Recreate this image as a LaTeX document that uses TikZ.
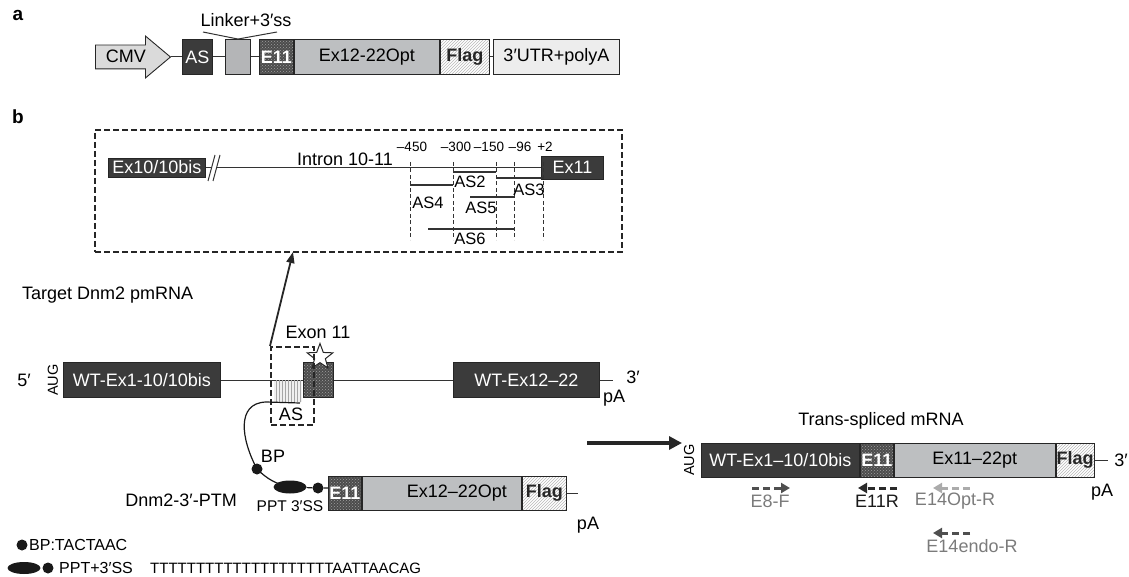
\documentclass[tikz,border=0pt]{standalone}
\usepackage{fontspec}
\setmainfont{Liberation Sans}
\usetikzlibrary{arrows.meta,positioning,shapes.geometric,shapes.arrows,patterns}
\definecolor{exdark}{HTML}{3B3B3B}
\definecolor{exdots}{HTML}{4C4C4C}
\definecolor{optgrey}{HTML}{BDBFC1}
\definecolor{linkgrey}{HTML}{B4B5B7}
\definecolor{cmvgrey}{HTML}{DADADA}
\definecolor{utrgrey}{HTML}{EDEDED}
\definecolor{prdark}{HTML}{2A2A2A}
\definecolor{prmid}{HTML}{4F4F4F}
\definecolor{prlight}{HTML}{ABABAB}
\definecolor{prtext}{HTML}{7B7B7B}
\newcommand{\fsz}[1]{\fontsize{#1}{#1}\selectfont}

\begin{document}
\begin{tikzpicture}[x=1pt,y=-1pt,
  every node/.style={inner sep=0pt,font=\fsz{18}},
  exbox/.style={draw=black!85,line width=0.9pt,minimum height=35pt,anchor=west},
  dark/.style={exbox,fill=exdark,text=white},
  dotbox/.style={exbox,preaction={fill=exdots},pattern=crosshatch dots,
                 pattern color=gray!75,text=white,font=\fsz{18}\bfseries},
  optbox/.style={exbox,fill=optgrey},
  flagbox/.style={exbox,preaction={fill=white},pattern=north east lines,
                  pattern color=gray!55,text=black!85,font=\fsz{18}\bfseries},
  hatchbox/.style={preaction={fill=gray!12},pattern=vertical lines,pattern color=gray!70},
  backbone/.style={line width=1pt,black!80},
  zoombox/.style={draw=black!85,line width=2pt,dash pattern=on 6pt off 3pt},
  vdash/.style={line width=1pt,black!80,dash pattern=on 4pt off 2.5pt},
  asseg/.style={line width=2.6pt,black!80},
  dotnode/.style={circle,fill=black!90,minimum size=11pt},
  ptm/.style={line width=1.2pt,black!90},
  zoomarrow/.style={line width=1.8pt,black!85,-{Triangle[length=11pt,width=8pt]}},
  bigarrow/.style={line width=3.2pt,black!85,-{Triangle[length=13pt,width=13pt]}},
  primer/.style={line width=3pt,dash pattern=on 7pt off 4pt,-{Triangle[length=9pt,width=10pt]}}]
\useasboundingbox (0,0) rectangle (1129,577);

% a: PTM construct
\node[font=\fsz{19}\bfseries] (pa) at (18,15) {a};
\node[single arrow,draw=black!85,line width=0.9pt,fill=cmvgrey,anchor=tail,
      minimum height=75pt,single arrow head extend=9pt,single arrow tip angle=80,
      text height=12pt,text depth=1pt,inner xsep=2pt,inner ysep=5pt] (cmv) at (95,57) {CMV};
\node[dark,minimum width=30pt] (asA) at (182,57) {AS};
\node[exbox,fill=linkgrey,minimum width=25pt] (lnk) at (225,57) {};
\node[dotbox,minimum width=34pt] (e11A) at (259,57) {E11};
\node[optbox,minimum width=145pt,right=0pt of e11A] (optA) {Ex12-22Opt};
\node[flagbox,minimum width=49pt,right=0pt of optA] (flagA) {Flag};
\node[exbox,fill=utrgrey,minimum width=126pt] (utr) at (493,57) {3′UTR+polyA};
\draw[backbone] (cmv.tip) -- (asA.west);
\draw[backbone] (asA.east) -- (lnk.west);
\draw[backbone] (lnk.east) -- (e11A.west);
\draw[backbone] (flagA.east) -- (utr.west);
\node (lnklbl) at (246,20) {Linker+3′ss};
\coordinate (lnkl) at (203,32);
\coordinate (lnkr) at (277,32);
\draw[backbone] (lnkl) -- (lnk.north) -- (lnkr);

% b: zoom on intron 10-11
\node[font=\fsz{19}\bfseries] (pb) at (18,117) {b};
\node[zoombox,minimum width=527pt,minimum height=122pt,anchor=north west] (zoombx) at (94,129) {};
\node[dark,minimum width=97pt,minimum height=19pt] (ex10) at (108,167.5) {Ex10/10bis};
\node[dark,minimum width=62pt,minimum height=23pt] (ex11) at (541,167.5) {Ex11};
\draw[backbone] (ex10.east) -- (ex11.west);
\fill[white] (208,181) -- (215,155) -- (220,155) -- (213,181) -- cycle;
\draw[backbone] (208,181) -- (215,155) (213,181) -- (220,155);
\node (intronlbl) at (345,159) {Intron 10-11};
\foreach \x/\t [count=\i] in {412/--450,456/--300,489/--150,520/--96,545/+2}
  \node[font=\fsz{13.5}] (pos\i) at (\x,147) {\t};
\foreach \x in {410,453,496,514,543}
  \draw[vdash] (\x,162) -- (\x,240);
\foreach \a/\b/\y/\t/\lx/\ly in {453/496/172/AS2/470/182,496/543/178/AS3/529/190,
    410/453/185/AS4/428/203,470/514/197/AS5/481/208,428/514/229/AS6/470/239}{
  \draw[asseg] (\a,\y) -- (\b,\y);
  \node[font=\fsz{16.5}] (\t) at (\lx,\ly) {\t};
}

% target pre-mRNA
\node[anchor=west] (tgt) at (22,295) {Target Dnm2 pmRNA};
\node (p5) at (24,380) {5′};
\node[rotate=90,font=\fsz{14.5}] (augP) at (53,380) {AUG};
\node[dark,minimum width=157pt] (wt1) at (63,380) {WT-Ex1-10/10bis};
\node[dark,minimum width=146pt] (wt12) at (453,380) {WT-Ex12--22};
\draw[backbone] (wt1.east) -- (wt12.west);
\node[hatchbox,minimum width=28pt,minimum height=21pt,anchor=north west] (ashatch) at (274,380.5) {};
\node[dotbox,minimum width=30pt] (ex11p) at (303,380) {};
\coordinate (pmend) at (613,380);
\draw[backbone] (wt12.east) -- (pmend);
\node (p3) at (633,377) {3′};
\node (pApm) at (614,398) {pA};
\node[star,star points=5,star point ratio=2.4,draw=black!85,line width=1pt,
      fill=white,minimum size=27pt] (star) at (320,357) {};
\node (exlbl) at (318,332) {Exon 11};
\node[zoombox,minimum width=43pt,minimum height=78pt,anchor=north west] (asbox) at (270,346) {};
\node (aslbl) at (291,414) {AS};
\coordinate (zoomin) at (293,252);
\draw[zoomarrow] (asbox.north west) -- (zoomin);

% PTM
\coordinate (asend) at (300,403);
\coordinate (asbend) at (266,402);
\node[dotnode] (bp) at (257,469) {};
\node[ellipse,fill=black!90,minimum width=33pt,minimum height=13pt] (ppt) at (290,487) {};
\node[dotnode] (ss) at (318,488) {};
\node[dotbox,minimum width=33pt,minimum height=34pt] (e11C) at (328,493) {E11};
\node[optbox,minimum width=159pt,minimum height=34pt,right=0pt of e11C] (optC) {\hspace*{30pt}Ex12--22Opt};
\node[flagbox,minimum width=44pt,minimum height=34pt,right=0pt of optC] (flagC) {Flag};
\draw[ptm] (asend) -- (asbend) .. controls +(-30,1) and +(-16,-30) .. (bp.center);
\draw[ptm] (bp.center) .. controls +(10,10) and +(-14,-3) .. (ppt.center);
\draw[ptm] (ppt) -- (ss) -- (ss -| e11C.west);
\coordinate (ptmend) at (578,493);
\draw[backbone] (flagC.east) -- (ptmend);
\node (pAptm) at (588,525) {pA};
\node[anchor=east] (ptmlbl) at (237,500) {Dnm2-3′-PTM};
\node[font=\fsz{15.5}] (ppttxt) at (290,506) {PPT 3′SS};
\node (bptxt) at (273,456) {BP};

% trans-spliced mRNA
\coordinate (bigfrom) at (587,443);
\coordinate (bigto) at (682,443);
\draw[bigarrow] (bigfrom) -- (bigto);
\node (tslbl) at (881,421) {Trans-spliced mRNA};
\node[rotate=90,font=\fsz{14.5}] (augT) at (689,460) {AUG};
\node[dark,minimum width=158pt,minimum height=34pt] (wtT) at (701,460) {WT-Ex1--10/10bis};
\node[dotbox,minimum width=33pt,minimum height=34pt,right=0pt of wtT] (e11T) {E11};
\node[optbox,minimum width=161pt,minimum height=34pt,right=0pt of e11T] (optT) {Ex11--22pt};
\node[flagbox,minimum width=38pt,minimum height=34pt,right=0pt of optT] (flagT) {Flag};
\coordinate (tsend) at (1108,460);
\draw[backbone] (flagT.east) -- (tsend);
\node (t3) at (1121,460) {3′};
\node (pAts) at (1102,492) {pA};

% primers
\coordinate (e8a) at (752,488);  \coordinate (e8b) at (790,488);
\coordinate (e11a) at (897,488); \coordinate (e11b) at (858,488);
\coordinate (e14a) at (970,488); \coordinate (e14b) at (933,488);
\coordinate (e14c) at (970,533); \coordinate (e14d) at (933,533);
\draw[primer,prmid] (e8a) -- (e8b);
\draw[primer,prdark] (e11a) -- (e11b);
\draw[primer,prlight] (e14a) -- (e14b);
\draw[primer,prmid] (e14c) -- (e14d);
\node[text=prtext] (e8f) at (770,501) {E8-F};
\node[text=black!90] (e11r) at (877,501) {E11R};
\node[text=prtext] (e14opt) at (955,501) {E14Opt-R};
\node[text=prtext] (e14endo) at (972,546) {E14endo-R};

% legend
\node[dotnode] (lgbp) at (22,545) {};
\node[anchor=west,font=\fsz{16}] (lgbptxt) at (29,545) {BP:TACTAAC};
\node[ellipse,fill=black!90,minimum width=33pt,minimum height=12pt] (lgppt) at (24,568) {};
\node[dotnode] (lgss) at (48,568) {};
\node[anchor=west,font=\fsz{16}] (lgppttxt) at (59,568) {PPT+3′SS};
\node[anchor=west,font=\fsz{15}] (lgseq) at (150,568) {TTTTTTTTTTTTTTTTTTTTAATTAACAG};
\end{tikzpicture}
\end{document}
